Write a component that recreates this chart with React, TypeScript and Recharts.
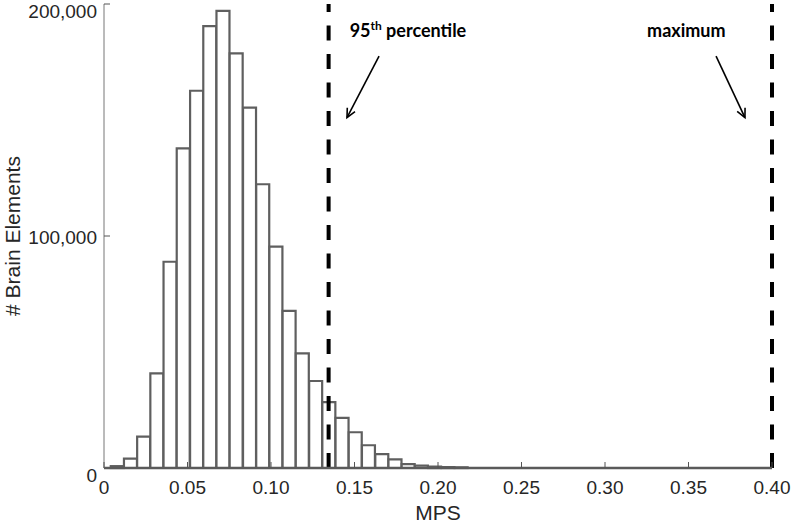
import React from 'react';
import { ComposedChart, Bar, XAxis, YAxis, ReferenceLine, ReferenceDot, Label } from 'recharts';

// histogram bins (centres in MPS) and element counts
const binCenters = [
    0.0080, 0.0159, 0.0238, 0.0317, 0.0396, 0.0475, 0.0555, 0.0634, 0.0713, 0.0792,
    0.0872, 0.0951, 0.1030, 0.1109, 0.1188, 0.1268, 0.1347, 0.1426, 0.1505, 0.1584,
    0.1664, 0.1743, 0.1822, 0.1901, 0.1980, 0.2060, 0.2139,
];
const binCounts = [
    800, 4000, 13500, 40800, 88900, 137800, 162600, 190500, 197000, 178700,
    155300, 122300, 95400, 67700, 49400, 37500, 28400, 21600, 15400, 9800,
    6000, 3700, 1700, 1000, 600, 400, 300,
];

const xTicks = [0, 0.05, 0.1, 0.15, 0.2, 0.25, 0.3, 0.35, 0.4];
const yTicks = [0, 100000, 200000];

const percentile95 = 0.1345;
const maximumMps = 0.4;

// annotation anchors (data coordinates)
const pctLabel = { x: 0.182, y: 188400 };
const pctArrow = [{ x: 0.1647, y: 177500 }, { x: 0.1455, y: 151000 }];
const maxLabel = { x: 0.3487, y: 188400 };
const maxArrow = [{ x: 0.3665, y: 177500 }, { x: 0.3838, y: 151000 }];

const data = binCenters.map((c, i) => ({ mps: c, count: binCounts[i] }));

const TICK_FONT = '"Liberation Sans", Arial, Helvetica, sans-serif';
const NOTE_FONT = 'Lato, "Open Sans", sans-serif';

const XTick = (props: any) => {
    const { x, y, payload } = props;
    const v = payload.value;
    return (
        <g>
            <line x1={x} y1={y} x2={x} y2={y - 6} stroke="#555" strokeWidth={1} />
            <text x={x} y={y + 26} textAnchor="middle" style={{ fontSize: 19, fontFamily: TICK_FONT }} fill="#262626">
                {v === 0 ? '0' : v.toFixed(2)}
            </text>
        </g>
    );
};

const YTick = (props: any) => {
    const { x, y, payload } = props;
    const v = payload.value;
    const dy = v === 0 || v === 200000 ? 7 : 1;
    return (
        <g>
            {v !== 0 && <line x1={x} y1={y} x2={x + 6} y2={y} stroke="#555" strokeWidth={1} />}
            <text x={x - 7} y={y + dy} dy="0.36em" textAnchor="end" style={{ fontSize: 19, fontFamily: TICK_FONT }} fill="#262626">
                {v.toLocaleString('en-US')}
            </text>
        </g>
    );
};

const ArrowShape = (props: any) => {
    const { x1, y1, x2, y2 } = props;
    const ang = Math.atan2(y2 - y1, x2 - x1);
    const len = 10;
    const spread = 0.45;
    const ax = x2 - len * Math.cos(ang - spread);
    const ay = y2 - len * Math.sin(ang - spread);
    const bx = x2 - len * Math.cos(ang + spread);
    const by = y2 - len * Math.sin(ang + spread);
    return (
        <g>
            <line x1={x1} y1={y1} x2={x2} y2={y2} stroke="#000" strokeWidth={1.6} />
            <polyline points={`${ax},${ay} ${x2},${y2} ${bx},${by}`} fill="none" stroke="#000" strokeWidth={1.6} />
        </g>
    );
};

const PctText = (props: any) => (
    <text x={props.cx} y={props.cy} textAnchor="middle" dy="0.35em" style={{ fontFamily: NOTE_FONT, fontWeight: 700, fontSize: 18 }} fill="#000">
        95<tspan fontSize={12} dy={-7}>th</tspan>
        <tspan dy={7}> percentile</tspan>
    </text>
);

const MaxText = (props: any) => (
    <text x={props.cx} y={props.cy} textAnchor="middle" dy="0.35em" style={{ fontFamily: NOTE_FONT, fontWeight: 700, fontSize: 18 }} fill="#000">
        maximum
    </text>
);

export default function App() {
    return (
        <div style={{ position: 'absolute', left: 0, top: 0, width: 792, height: 529, background: '#fff' }}>
            <ComposedChart
                width={792}
                height={529}
                data={data}
                margin={{ top: 4, right: 20, bottom: 0, left: 0 }}
                barCategoryGap={0}
                barGap={0}
            >
                <XAxis
                    dataKey="mps"
                    type="number"
                    domain={[0, 0.4]}
                    ticks={xTicks}
                    interval={0}
                    height={61}
                    tickSize={0}
                    tickMargin={0}
                    tickLine={false}
                    axisLine={{ stroke: '#5a5a5a', strokeWidth: 2.5 }}
                    tick={<XTick />}
                >
                    <Label
                        value="MPS"
                        position="insideBottom"
                        offset={9}
                        style={{ fontSize: 21, fontFamily: TICK_FONT, fill: '#262626', textAnchor: 'middle' }}
                    />
                </XAxis>
                <YAxis
                    type="number"
                    domain={[0, 200000]}
                    ticks={yTicks}
                    interval={0}
                    width={104}
                    tickSize={0}
                    tickMargin={0}
                    tickLine={false}
                    axisLine={{ stroke: '#777', strokeWidth: 1 }}
                    tick={<YTick />}
                >
                    <Label
                        value="# Brain Elements"
                        angle={-90}
                        position="insideLeft"
                        offset={13}
                        style={{ fontSize: 21, fontFamily: TICK_FONT, fill: '#262626', textAnchor: 'middle' }}
                    />
                </YAxis>
                <Bar
                    dataKey="count"
                    fill="#fff"
                    stroke="#5f5f5f"
                    strokeWidth={2.2}
                    isAnimationActive={false}
                />
                <ReferenceLine x={percentile95} stroke="#000" strokeWidth={4} strokeDasharray="15 13.5" />
                <ReferenceLine x={maximumMps} stroke="#000" strokeWidth={4} strokeDasharray="15 13.5" />
                <ReferenceLine segment={pctArrow} shape={(p: any) => <ArrowShape {...p} />} />
                <ReferenceLine segment={maxArrow} shape={(p: any) => <ArrowShape {...p} />} />
                <ReferenceDot x={pctLabel.x} y={pctLabel.y} r={0} shape={(p: any) => <PctText {...p} />} />
                <ReferenceDot x={maxLabel.x} y={maxLabel.y} r={0} shape={(p: any) => <MaxText {...p} />} />
            </ComposedChart>
        </div>
    );
}
